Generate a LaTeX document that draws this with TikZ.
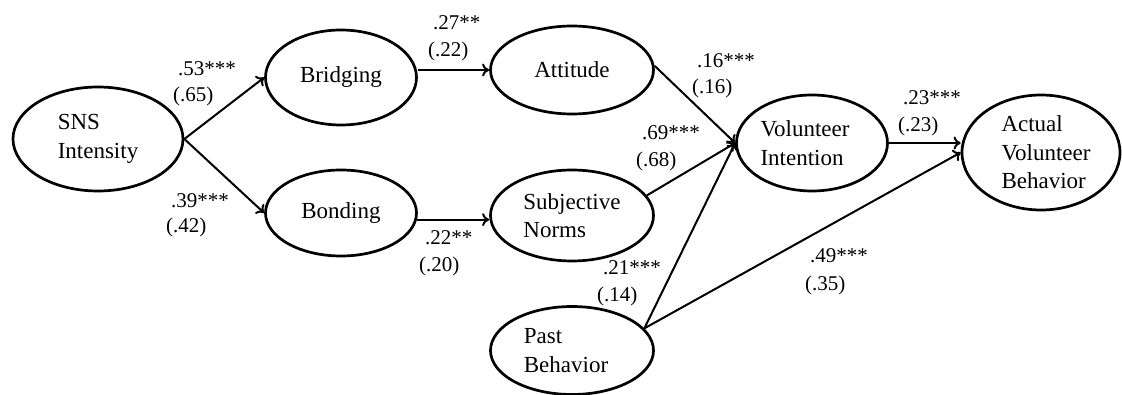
\documentclass[tikz,border=0pt]{standalone}
\usepackage{fontspec}
\setmainfont{Liberation Serif}
\usetikzlibrary{shapes.geometric,arrows.meta,calc}
\begin{document}
\begin{tikzpicture}[x=1pt,y=-1pt,
  latent/.style={draw, ellipse, line width=2.7pt, inner sep=0pt, align=left,
                 font=\fontsize{23}{28.5}\selectfont},
  coef/.style={anchor=base west, inner sep=0pt, font=\fontsize{21}{25}\selectfont},
  patharrow/.style={line width=2pt, -{To[length=7pt,width=13pt]}}]
\useasboundingbox (0,0) rectangle (1122,395);
% latent variables
\node[latent, minimum width=170pt, minimum height=104pt] (sns) at (98,139) {SNS\\Intensity};
\node[latent, minimum width=151pt, minimum height=95pt] (bridging) at (341,77.5) {Bridging};
\node[latent, minimum width=151pt, minimum height=86pt] (bonding) at (341,213) {Bonding};
\node[latent, minimum width=163pt, minimum height=88pt] (attitude) at (572,70) {Attitude};
\node[latent, minimum width=163pt, minimum height=91pt] (sn) at (572,215.5) {Subjective\\Norms};
\node[latent, minimum width=163pt, minimum height=88pt] (past) at (572,350.5) {Past\\Behavior\hspace*{12pt}};
\node[latent, minimum width=151pt, minimum height=96pt] (vi) at (812,143) {Volunteer\hspace*{14pt}\\Intention};
\node[latent, minimum width=158pt, minimum height=115pt] (avb) at (1041,152.5) {\hspace*{10pt}Actual\\\hspace*{10pt}Volunteer\\\hspace*{10pt}Behavior};
% paths
\draw[patharrow] (sns.east) -- (bridging.west);
\draw[patharrow] (sns.east) -- (bonding.west);
\draw[patharrow] (attitude.west -| bridging.east) -- (attitude.west);
\draw[patharrow] (bonding.-5) -- (bonding.-5 -| sn.west);
\draw[patharrow] (attitude.3) -- (vi.west);
\draw[patharrow] (sn.15) -- (vi.west);
\draw[patharrow] (past.17) -- (vi.west);
\draw[patharrow] (past.17) -- (avb.west);
\draw[patharrow] (vi.east) -- (avb.west |- vi.east);
% coefficients
\node[coef] (c1a) at (178,76) {.53***};
\node[coef] (c1b) at (173,102) {(.65)};
\node[coef] (c2a) at (171,208) {.39***};
\node[coef] (c2b) at (166,233) {(.42)};
\node[coef] (c3a) at (433,30) {.27**};
\node[coef] (c3b) at (428,57) {(.22)};
\node[coef] (c4a) at (425,245) {.22**};
\node[coef] (c4b) at (419,272) {(.20)};
\node[coef] (c5a) at (697,68) {.16***};
\node[coef] (c5b) at (692,94) {(.16)};
\node[coef] (c6a) at (642,140) {.69***};
\node[coef] (c6b) at (636,167) {(.68)};
\node[coef] (c7a) at (903,105) {.23***};
\node[coef] (c7b) at (898,132) {(.23)};
\node[coef] (c8a) at (603,275) {.21***};
\node[coef] (c8b) at (597,302) {(.14)};
\node[coef] (c9a) at (810,263) {.49***};
\node[coef] (c9b) at (805,291) {(.35)};
\end{tikzpicture}
\end{document}
